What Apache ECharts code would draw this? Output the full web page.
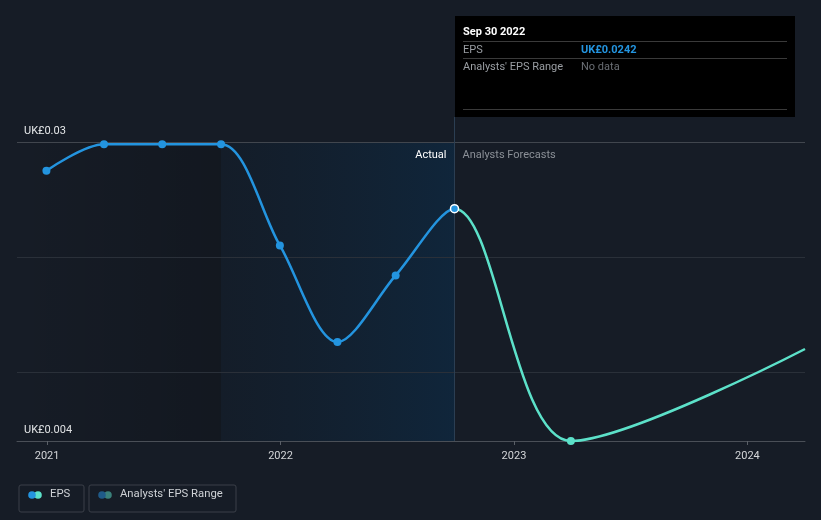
<!DOCTYPE html>
<html>
<head>
<meta charset="utf-8">
<script src="https://cdn.jsdelivr.net/npm/echarts@6/dist/echarts.min.js"></script>
<style>
html,body{margin:0;padding:0;background:#161c26;}
#chart{width:821px;height:520px;}
</style>
</head>
<body>
<div id="chart"></div>
<script>
// ---- data ----
const actualDates = ['2020-12-31','2021-03-31','2021-06-30','2021-09-30','2021-12-31','2022-03-31','2022-06-30','2022-09-30'];
const actualEps = [0.0275, 0.0298, 0.0298, 0.0298, 0.0210, 0.0126, 0.0184, 0.0242];
const forecastDates = ['2022-09-30','2023-03-31','2024-03-31'];
const forecastEps = [0.0242, 0.0040, 0.0120];
const yearTicks = ['2021-01-01','2022-01-01','2023-01-01','2024-01-01'];
const yLabelValues = [0.004, 0.03];
const gridValues = [0.01, 0.02, 0.03];
const xStart = '2020-11-15';
const xEnd = '2024-03-31';
const pastShadeStart = '2021-09-30';
const lastActualDate = '2022-09-30';

const ts = d => new Date(d + 'T00:00:00Z').getTime();
const yMin = 0.004, yMax = 0.03217;
const FONT = 'Roboto, "Noto Sans", sans-serif';
const BLUE = '#2394df', TEAL = '#5ce1c9';
const W = 821;

const chart = echarts.init(document.getElementById('chart'), null, {renderer: 'canvas'});

const baseOption = {
  backgroundColor: '#161c26',
  animation: false,
  textStyle: {fontFamily: FONT},
  grid: {left: 17, right: 16, top: 117, bottom: 79, containLabel: false},
  xAxis: {
    type: 'value',
    min: ts(xStart),
    max: ts(xEnd),
    axisLine: {show: true, lineStyle: {color: '#4a4f57', width: 1}},
    axisTick: {show: true, customValues: yearTicks.map(ts), length: 4, lineStyle: {color: '#5a5f67'}},
    axisLabel: {
      customValues: yearTicks.map(ts),
      formatter: v => String(new Date(v).getUTCFullYear()),
      color: '#d4d6d9', fontSize: 11, margin: 10, fontFamily: FONT
    },
    splitLine: {show: false}
  },
  yAxis: {
    type: 'value',
    min: yMin,
    max: yMax,
    axisLine: {show: false},
    axisTick: {show: false},
    splitLine: {show: false},
    axisLabel: {
      customValues: yLabelValues,
      inside: true,
      margin: 7,
      verticalAlign: 'bottom',
      padding: [0, 0, 5, 0],
      formatter: v => 'UK£' + (v === 0.004 ? '0.004' : '0.03'),
      color: '#e6e8ea', fontSize: 11, fontFamily: FONT
    }
  },
  series: []
};
chart.setOption(baseOption);

const vx = chart.convertToPixel({gridIndex: 0}, [ts(lastActualDate), 0.03]);
const sepX = vx[0], topY = vx[1];
const f = sepX / W;

// one continuous line (actual + forecast), coloured by date
const allDates = actualDates.concat(forecastDates.slice(1));
const allEps = actualEps.concat(forecastEps.slice(1));
const lineData = allDates.map((d, i) => {
  const isActual = ts(d) <= ts(lastActualDate);
  const item = {value: [ts(d), allEps[i]], itemStyle: {color: isActual ? BLUE : TEAL}};
  if (d === lastActualDate) { item.itemStyle.borderColor = '#ffffff'; item.itemStyle.borderWidth = 1.5; }
  if (i === allDates.length - 1) item.symbolSize = 0;
  return item;
});

chart.setOption({
  series: [
    {
      name: 'background',
      type: 'line',
      data: [],
      z: 1,
      silent: true,
      markArea: {
        silent: true,
        data: [
          [
            {xAxis: ts(xStart), yAxis: yMin, itemStyle: {color: {type: 'linear', x: 0, y: 0, x2: 1, y2: 0, colorStops: [
              {offset: 0, color: 'rgba(0,0,0,0)'}, {offset: 1, color: 'rgba(0,0,0,0.16)'}]}}},
            {xAxis: ts(pastShadeStart), yAxis: 0.03}
          ],
          [
            {xAxis: ts(pastShadeStart), yAxis: yMin, itemStyle: {color: {type: 'linear', x: 0, y: 0, x2: 1, y2: 0, colorStops: [
              {offset: 0, color: 'rgba(18,30,44,0.5)'}, {offset: 1, color: 'rgba(14,40,64,0.8)'}]}}},
            {xAxis: ts(lastActualDate), yAxis: 0.03}
          ]
        ]
      },
      markLine: {
        silent: true,
        symbol: ['none', 'none'],
        label: {show: false},
        data: [
          ...gridValues.map(v => ({yAxis: v, lineStyle: {color: v === 0.03 ? '#41464e' : '#2a3039', width: 1, type: 'solid'}})),
          {xAxis: ts(lastActualDate), lineStyle: {color: '#2b3e52', width: 1, type: 'solid'}}
        ]
      }
    },
    {
      name: 'EPS',
      type: 'line',
      data: lineData,
      smooth: 0.32,
      symbol: 'circle',
      symbolSize: 8,
      lineStyle: {
        width: 2.5,
        color: {type: 'linear', x: 0, y: 0, x2: W, y2: 0, global: true, colorStops: [
          {offset: 0, color: BLUE}, {offset: f, color: BLUE}, {offset: f, color: TEAL}, {offset: 1, color: TEAL}]}
      },
      z: 5
    }
  ],
  graphic: [
    {type: 'text', z: 100, right: W - (sepX - 8), top: topY + 8, style: {text: 'Actual', fill: '#ffffff', font: '11px ' + FONT}},
    {type: 'text', z: 100, left: sepX + 8, top: topY + 8, style: {text: 'Analysts Forecasts', fill: '#8b9097', font: '11px ' + FONT}},
    {type: 'rect', z: 100, left: 455, top: 16, shape: {width: 340, height: 101}, style: {fill: '#000000'}},
    {type: 'text', z: 101, left: 463, top: 27, style: {text: 'Sep 30 2022', fill: '#ffffff', font: 'bold 11px ' + FONT}},
    {type: 'line', z: 101, shape: {x1: 463, y1: 41.5, x2: 787, y2: 41.5}, style: {stroke: '#3a3a3a', lineWidth: 1}},
    {type: 'text', z: 101, left: 463, top: 45, style: {text: 'EPS', fill: '#9a9ea3', font: '11px ' + FONT}},
    {type: 'text', z: 101, left: 581, top: 45, style: {text: 'UK£0.0242', fill: BLUE, font: 'bold 11px ' + FONT}},
    {type: 'line', z: 101, shape: {x1: 463, y1: 58.5, x2: 787, y2: 58.5}, style: {stroke: '#3a3a3a', lineWidth: 1}},
    {type: 'text', z: 101, left: 463, top: 62, style: {text: "Analysts' EPS Range", fill: '#9a9ea3', font: '11px ' + FONT}},
    {type: 'text', z: 101, left: 581, top: 62, style: {text: 'No data', fill: '#6a6e74', font: '11px ' + FONT}},
    {type: 'line', z: 101, shape: {x1: 463, y1: 109.5, x2: 787, y2: 109.5}, style: {stroke: '#3a3a3a', lineWidth: 1}},
    // legend
    {type: 'rect', z: 100, left: 16.5, top: 482.5, shape: {width: 65, height: 27, r: 2}, style: {fill: 'none', stroke: '#3a3f48', lineWidth: 1}},
    {type: 'circle', z: 100, shape: {cx: 38, cy: 495, r: 3.8}, style: {fill: TEAL}},
    {type: 'circle', z: 101, shape: {cx: 32, cy: 495, r: 3.8}, style: {fill: BLUE}},
    {type: 'text', z: 100, left: 50, top: 489, style: {text: 'EPS', fill: '#cfd2d6', font: '11.3px ' + FONT}},
    {type: 'rect', z: 100, left: 86.5, top: 482.5, shape: {width: 147, height: 27, r: 2}, style: {fill: 'none', stroke: '#3a3f48', lineWidth: 1}},
    {type: 'circle', z: 100, shape: {cx: 108, cy: 495, r: 3.8}, style: {fill: '#3a807a'}},
    {type: 'circle', z: 101, shape: {cx: 102, cy: 495, r: 3.8}, style: {fill: '#1f5a88'}},
    {type: 'text', z: 100, left: 120, top: 489, style: {text: "Analysts' EPS Range", fill: '#cfd2d6', font: '11.3px ' + FONT}}
  ]
});
</script>
</body>
</html>
